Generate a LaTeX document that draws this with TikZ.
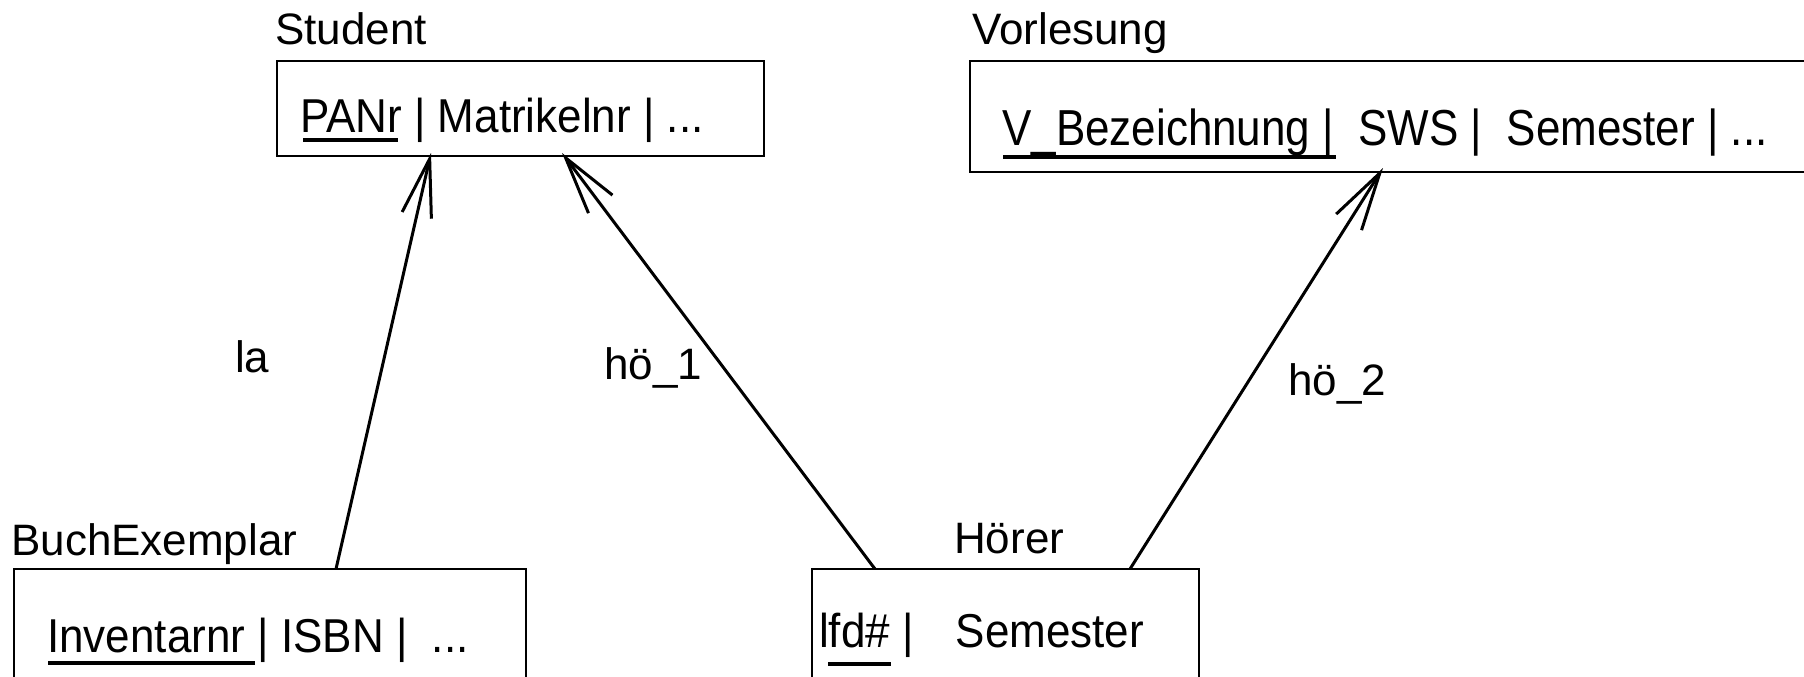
\documentclass[tikz,border=0pt]{standalone}
\usepackage{fontspec}
\setmainfont{Liberation Sans}
\usetikzlibrary{arrows.meta}
\newcommand\tallr[2]{\scalebox{1}[#1]{#2}}
\begin{document}
\begin{tikzpicture}[x=1pt,y=-1pt,
  box/.style={draw, line width=2pt, inner sep=0pt, outer sep=0pt, anchor=north west},
  txt/.style={inner sep=0pt, anchor=base west, font=\fontsize{44pt}{50pt}\selectfont},
  uline/.style={line width=3.5pt},
  conn/.style={line width=3pt},
  arr/.style={conn, -{Straight Barb[length=58pt,width=30pt]}}]
\useasboundingbox (0,0) rectangle (1804,677);
% boxes
\node[box, minimum width=487pt, minimum height=95pt] (stud) at (277,61) {};
\node[box, minimum width=850pt, minimum height=111pt] (vorl) at (970,61) {};
\node[box, minimum width=512pt, minimum height=130pt] (bex) at (14,569) {};
\node[box, minimum width=387pt, minimum height=130pt] (hoer) at (812,569) {};
% titles
\node[txt] (tstud) at (275,45) {Student};
\node[txt] (tvorl) at (972,45) {Vorlesung};
\node[txt] (tbex) at (11,555) {BuchExemplar};
\node[txt] (thoer) at (954,553) {Hörer};
% attributes
\node[txt] (astud) at (300,132) {\tallr{1.08}{PANr | Matrikelnr | ...}};
\node[txt] (avorl) at (1002,145) {\tallr{1.15}{V\_Bezeichnung |\ \ SWS |\ \ Semester | ...}};
\node[txt] (abex) at (47,652) {\tallr{1.08}{Inventarnr | ISBN |\ \ ...}};
\node[txt] (ahoer) at (819,647) {\tallr{1.08}{lfd\# |\hspace{42pt}Semester}};
% underlines of keys
\draw[uline] (303,140) -- (398,140);
\draw[uline] (1003,157) -- (1336,157);
\draw[uline] (48,663) -- (255,663);
\draw[uline] (828,664) -- (891,664);
% connectors
\draw[arr] ([xshift=322pt]bex.north west) -- ([xshift=154pt,yshift=3pt]stud.south west);
\draw[arr] ([xshift=63pt]hoer.north west) -- ([xshift=285pt,yshift=3pt]stud.south west);
\draw[arr] ([xshift=318pt]hoer.north west) -- ([xshift=413pt,yshift=4pt]vorl.south west);
% connector labels
\node[txt] (lla) at (235,372) {la};
\node[txt] (lh1) at (604,379) {hö\_1};
\node[txt] (lh2) at (1288,395) {hö\_2};
\end{tikzpicture}
\end{document}
